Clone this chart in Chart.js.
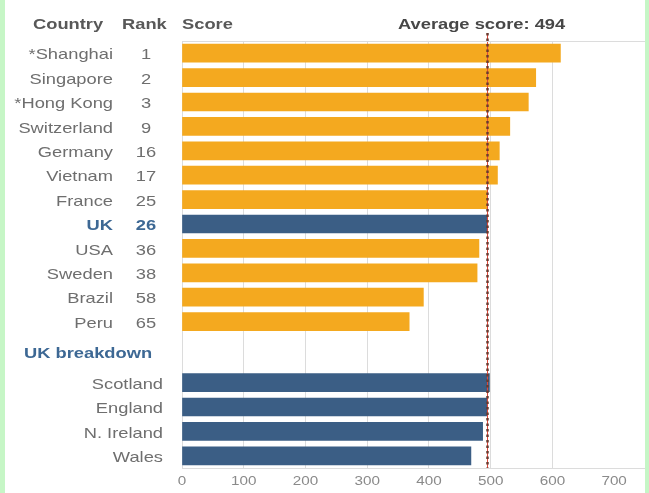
<!DOCTYPE html>
<html>
<head>
<meta charset="utf-8">
<script src="https://cdn.jsdelivr.net/npm/chart.js@4/dist/chart.umd.min.js"></script>
<style>
  body { margin: 0; background: #fff; }
  #wrap { position: relative; width: 649px; height: 493px; }
  .edge { position: absolute; top: 0; bottom: 0; background: #c6f6c6; }
</style>
</head>
<body>
<div id="wrap">
  <canvas id="pisaChart" width="649" height="493"></canvas>
  <div class="edge" style="left:0;width:5px"></div>
  <div class="edge" style="right:0;width:4px"></div>
</div>
<script>
const countries = ["*Shanghai", "Singapore", "*Hong Kong", "Switzerland", "Germany", "Vietnam",
  "France", "UK", "USA", "Sweden", "Brazil", "Peru"];
const ranks = [1, 2, 3, 9, 16, 17, 25, 26, 36, 38, 58, 65];
const countryScores = [613, 573, 561, 531, 514, 511, 495, 494, 481, 478, 391, 368];
const ukRegions = ["Scotland", "England", "N. Ireland", "Wales"];
const ukScores = [498, 495, 487, 468];
const averageScore = 494;
const xTicks = [0, 100, 200, 300, 400, 500, 600, 700];

const ORANGE = "#f4a91f";
const BLUE = "#3b5e85";
const LABEL_BLUE = "#3d6894";
const GREY = "#6e6e6e";
const FONT = "'Liberation Sans', Arial, sans-serif";
const STRETCH = 1.22;

// rows: countries first, then the UK breakdown after a gap
const breakdownStart = countries.length + 1.5;
const countryRows = countries.map((c, i) => i);
const regionRows = ukRegions.map((r, i) => breakdownStart + i);
const breakdownTitleRow = countries.length + 0.25;

function wideText(ctx, text, x, y, align, font, color) {
  ctx.save();
  ctx.translate(x, y);
  ctx.scale(STRETCH, 1);
  ctx.font = font;
  ctx.fillStyle = color;
  ctx.textAlign = align;
  ctx.textBaseline = "middle";
  ctx.fillText(text, 0, 0);
  ctx.restore();
}

const tablePlugin = {
  id: "tablePlugin",
  afterDatasetsDraw(chart) {
    const ctx = chart.ctx;
    const xs = chart.scales.x;
    const area = chart.chartArea;
    const ax = Math.round(xs.getPixelForValue(averageScore)) + 0.5;
    ctx.save();
    ctx.strokeStyle = "#e0473a";
    ctx.lineWidth = 1;
    ctx.beginPath();
    ctx.moveTo(ax, 33);
    ctx.lineTo(ax, area.bottom);
    ctx.stroke();
    ctx.strokeStyle = "#6a3b30";
    ctx.lineWidth = 2.5;
    ctx.setLineDash([2.5, 3]);
    ctx.beginPath();
    ctx.moveTo(ax, 33);
    ctx.lineTo(ax, area.bottom);
    ctx.stroke();
    ctx.restore();
  },
  afterDraw(chart) {
    const ctx = chart.ctx;
    const xs = chart.scales.x;
    const ys = chart.scales.y;
    const area = chart.chartArea;

    // top rule of the plot
    ctx.save();
    ctx.strokeStyle = "#dcdcdc";
    ctx.lineWidth = 1;
    ctx.beginPath();
    ctx.moveTo(area.left, Math.round(area.top) + 0.5);
    ctx.lineTo(area.right, Math.round(area.top) + 0.5);
    ctx.stroke();
    ctx.restore();

    const head = "bold 15px " + FONT;
    wideText(ctx, "Country", 33, 25, "left", head, "#585858");
    wideText(ctx, "Rank", 122, 25, "left", head, "#585858");
    wideText(ctx, "Score", 182, 25, "left", head, "#585858");
    wideText(ctx, "Average score: " + averageScore, 398, 25, "left", head, "#474747");

    const body = "15px " + FONT;
    const bodyBold = "bold 15px " + FONT;
    countries.forEach((name, i) => {
      const y = ys.getPixelForValue(countryRows[i]) + 2;
      const isUK = name === "UK";
      wideText(ctx, name, 113, y, "right", isUK ? bodyBold : body, isUK ? LABEL_BLUE : GREY);
      wideText(ctx, String(ranks[i]), 146, y, "center", isUK ? bodyBold : body, isUK ? LABEL_BLUE : GREY);
    });
    wideText(ctx, "UK breakdown", 24, ys.getPixelForValue(breakdownTitleRow) + 2, "left", bodyBold, LABEL_BLUE);
    ukRegions.forEach((name, i) => {
      wideText(ctx, name, 163, ys.getPixelForValue(regionRows[i]) + 2, "right", body, GREY);
    });

    xTicks.forEach(v => {
      wideText(ctx, String(v), xs.getPixelForValue(v), 482, "center", "12.5px " + FONT, "#8a8a8a");
    });
  }
};

new Chart(document.getElementById("pisaChart").getContext("2d"), {
  type: "bar",
  data: {
    datasets: [
      {
        label: "Countries",
        data: countryScores.map((s, i) => ({ x: s, y: countryRows[i] })),
        backgroundColor: countries.map(c => (c === "UK" ? BLUE : ORANGE)),
        grouped: false,
        barThickness: 18
      },
      {
        label: "UK breakdown",
        data: ukScores.map((s, i) => ({ x: s, y: regionRows[i] })),
        backgroundColor: BLUE,
        grouped: false,
        barThickness: 18
      }
    ]
  },
  options: {
    indexAxis: "y",
    responsive: false,
    animation: false,
    devicePixelRatio: 1,
    layout: { padding: { left: 182, right: 4, top: 41, bottom: 25 } },
    plugins: { legend: { display: false }, tooltip: { enabled: false } },
    scales: {
      x: {
        type: "linear",
        min: 0,
        max: 750,
        ticks: { stepSize: 100, display: false },
        grid: {
          drawTicks: false,
          color: c => (c.tick && c.tick.value > 700 ? "rgba(0,0,0,0)" : "#dcdcdc")
        },
        border: { color: "#dcdcdc" }
      },
      y: {
        type: "linear",
        reverse: true,
        offset: false,
        min: -0.5,
        max: 17,
        display: false
      }
    }
  },
  plugins: [tablePlugin]
});
</script>
</body>
</html>
